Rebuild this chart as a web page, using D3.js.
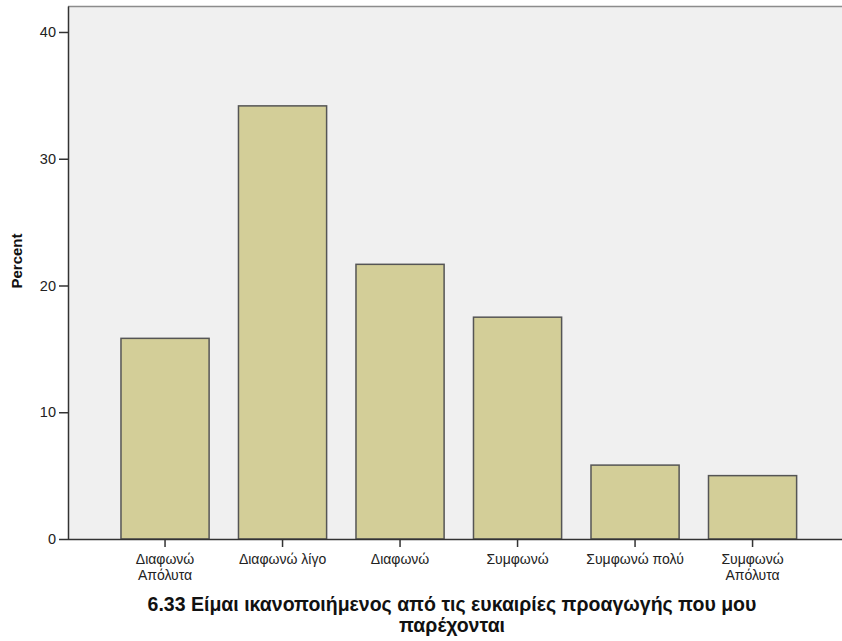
<!DOCTYPE html>
<html>
<head>
<meta charset="utf-8">
<script src="https://cdn.jsdelivr.net/npm/d3@7"></script>
<style>
  html, body { margin: 0; padding: 0; background: #ffffff; }
  svg { display: block; font-family: "Liberation Sans", Arial, sans-serif; }
</style>
</head>
<body>
<svg id="chart" width="842" height="641"></svg>
<script>
// Response categories (two-line labels split on "\n")
const categories = [
  "Διαφωνώ\nΑπόλυτα",
  "Διαφωνώ λίγο",
  "Διαφωνώ",
  "Συμφωνώ",
  "Συμφωνώ πολύ",
  "Συμφωνώ\nΑπόλυτα"
];
// Percent of respondents per category
const percents = [15.83, 34.17, 21.67, 17.5, 5.83, 5.0];
const yTicks = [0, 10, 20, 30, 40];
const yLabel = "Percent";
const titleLines = [
  "6.33 Είμαι ικανοποιήμενος από τις ευκαιρίες προαγωγής που μου",
  "παρέχονται"
];

const svg = d3.select("#chart");
const plot = { left: 68, top: 6, right: 850, bottom: 539 };

// bands sit inside the plot frame, which runs past the right edge
const x = d3.scaleBand()
  .domain(categories)
  .range([91.6, 826])
  .paddingInner(0.25)
  .paddingOuter(0.25);

const y = d3.scaleLinear()
  .domain([0, 42.05])
  .range([plot.bottom, plot.top]);

// plot background
svg.append("rect")
  .attr("x", plot.left).attr("y", plot.top)
  .attr("width", plot.right - plot.left)
  .attr("height", plot.bottom - plot.top)
  .attr("fill", "#f0f0f0");

// top frame line
svg.append("line")
  .attr("x1", plot.left).attr("x2", plot.right)
  .attr("y1", plot.top + 0.5).attr("y2", plot.top + 0.5)
  .attr("stroke", "#8c8c8c").attr("stroke-width", 1.5);

// bars
svg.append("g").selectAll("rect")
  .data(categories)
  .join("rect")
  .attr("x", d => x(d))
  .attr("y", (d, i) => y(percents[i]))
  .attr("width", x.bandwidth())
  .attr("height", (d, i) => y(0) - y(percents[i]))
  .attr("fill", "#d3ce98")
  .attr("stroke", "#555555")
  .attr("stroke-width", 1.5);

// y axis
const yAxis = svg.append("g")
  .attr("transform", `translate(${plot.left},0)`)
  .call(d3.axisLeft(y).tickValues(yTicks).tickSize(9).tickPadding(3).tickSizeOuter(0));
yAxis.select(".domain").attr("stroke", "#333").attr("stroke-width", 1.5);
yAxis.selectAll(".tick line").attr("stroke", "#333").attr("stroke-width", 1.5);
yAxis.selectAll(".tick text")
  .attr("font-size", 14.5).attr("fill", "#222")
  .attr("font-family", "Liberation Sans, Arial, sans-serif");

// x axis
const xAxis = svg.append("g")
  .attr("transform", `translate(0,${plot.bottom})`)
  .call(d3.axisBottom(x).tickSize(8).tickSizeOuter(0).tickFormat(""));
xAxis.select(".domain").attr("stroke", "#333").attr("stroke-width", 1.5)
  .attr("d", `M${plot.left},0.5H${plot.right}`);
xAxis.selectAll(".tick line").attr("stroke", "#333").attr("stroke-width", 1.5);

// category labels, possibly two lines
xAxis.selectAll(".tick").each(function(d) {
  const t = d3.select(this).append("text")
    .attr("text-anchor", "middle")
    .attr("fill", "#222")
    .attr("font-size", 14)
    .attr("font-family", "Liberation Sans, Arial, sans-serif");
  d.split("\n").forEach((line, i) => {
    t.append("tspan").attr("x", 0).attr("y", 25 + i * 16).text(line);
  });
});

// y axis title
svg.append("text")
  .attr("transform", "translate(22,261) rotate(-90)")
  .attr("text-anchor", "middle")
  .attr("font-size", 15)
  .attr("font-weight", "bold")
  .attr("fill", "#111")
  .text(yLabel);

// x axis title
const title = svg.append("text")
  .attr("text-anchor", "middle")
  .attr("font-size", 19.5)
  .attr("font-weight", "bold")
  .attr("fill", "#111");
titleLines.forEach((line, i) => {
  title.append("tspan").attr("x", 452).attr("y", 611 + i * 21).text(line);
});
</script>
</body>
</html>
